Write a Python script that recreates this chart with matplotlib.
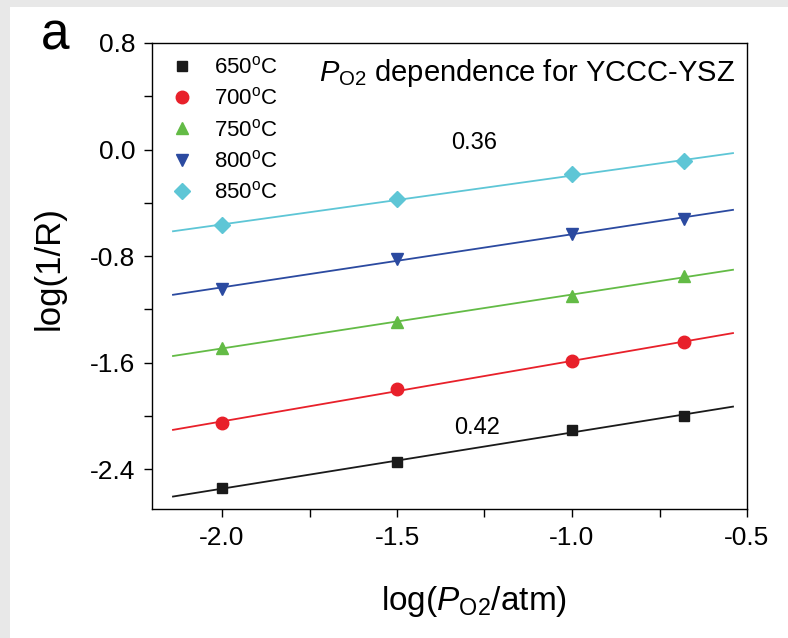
import numpy as np
import matplotlib
matplotlib.use('Agg')
import matplotlib.pyplot as plt
from matplotlib.patches import Rectangle
from matplotlib.ticker import MultipleLocator, FormatStrFormatter

plt.rcParams['font.family'] = ['Liberation Sans', 'DejaVu Sans']
plt.rcParams['mathtext.fontset'] = 'custom'
plt.rcParams['mathtext.rm'] = 'Liberation Sans'
plt.rcParams['mathtext.it'] = 'Liberation Sans:italic'
plt.rcParams['axes.unicode_minus'] = False

# data
log_po2 = [-2.0, -1.5, -1.0, -0.68]
temps = ['650', '700', '750', '800', '850']
y_650 = [-2.546, -2.346, -2.106, -2.001]
y_700 = [-2.051, -1.800, -1.589, -1.447]
y_750 = [-1.489, -1.297, -1.097, -0.952]
y_800 = [-1.047, -0.819, -0.632, -0.519]
y_850 = [-0.570, -0.372, -0.184, -0.090]
slope_labels = ['0.36', '0.42']

series = [y_650, y_700, y_750, y_800, y_850]
colors = ['#1a1a1a', '#e8202a', '#63bb46', '#2b4aa0', '#5ec6d6']
markers = ['s', 'o', '^', 'v', 'D']
msizes = [7, 9, 9, 9, 8]

fig = plt.figure(figsize=(7.88, 6.38), dpi=100, facecolor='#e8e8e8')
fig.patches.append(Rectangle((10 / 788, 0), 1, 1 - 7 / 638, transform=fig.transFigure,
                             facecolor='white', edgecolor='none', zorder=-5))
ax = fig.add_axes([152 / 788, 1 - 509 / 638, 595 / 788, 466 / 638])
ax.set_zorder(1)

x_fit = np.array([-2.14, -0.54])
for ys, t, c, m, ms in zip(series, temps, colors, markers, msizes):
    k, b = np.polyfit(log_po2, ys, 1)
    ax.plot(x_fit, k * x_fit + b, color=c, lw=1.3, zorder=2)
    ax.plot(log_po2, ys, ls='none', marker=m, color=c, ms=ms, zorder=3,
            label=t + r'$^\mathregular{o}$C')

ax.text(-1.28, 0.05, slope_labels[0], fontsize=17, ha='center', va='center')
ax.text(-1.27, -2.09, slope_labels[1], fontsize=17, ha='center', va='center')
ax.text(0.98, 0.935, r'$P_{\mathregular{O2}}$ dependence for YCCC-YSZ', fontsize=21,
        transform=ax.transAxes, ha='right', va='center')

ax.set_xlim(-2.2, -0.5)
ax.set_ylim(-2.7, 0.8)
ax.xaxis.set_major_locator(MultipleLocator(0.5))
ax.xaxis.set_minor_locator(MultipleLocator(0.25))
ax.yaxis.set_major_locator(MultipleLocator(0.8))
ax.yaxis.set_minor_locator(MultipleLocator(0.4))
ax.xaxis.set_major_formatter(FormatStrFormatter('%.1f'))
ax.yaxis.set_major_formatter(FormatStrFormatter('%.1f'))
ax.tick_params(which='both', direction='out', length=6, width=1, labelsize=19, pad=6)
for s in ax.spines.values():
    s.set_linewidth(1)

ax.set_xlabel(r'log($P_{\mathregular{O2}}$/atm)', fontsize=24)
ax.set_ylabel('log(1/R)', fontsize=25)
ax.xaxis.set_label_coords(0.541, -0.16)
ax.yaxis.set_label_coords(-0.145, 0.517)

ax.legend(loc='upper left', frameon=False, fontsize=16, handletextpad=0.7,
          labelspacing=0.42, borderaxespad=0.2, handlelength=1.5)

fig.text(55 / 788, 1 - 36 / 638, 'a', fontsize=37, ha='center', va='center')

fig.savefig('out.png', dpi=100, facecolor=fig.get_facecolor())
